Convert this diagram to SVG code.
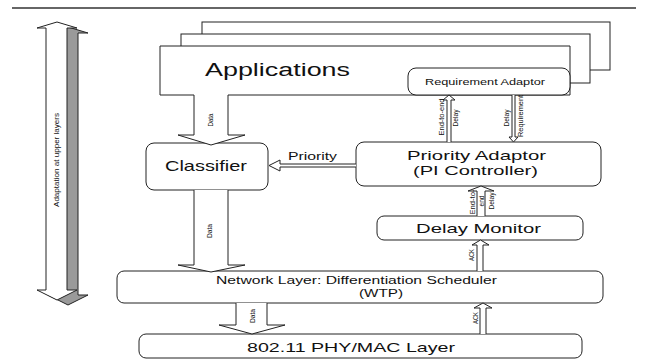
<svg xmlns="http://www.w3.org/2000/svg" width="648" height="363" viewBox="0 0 648 363">
<style>
.box{fill:#fff;stroke:#222;stroke-width:1}
.arr{fill:#fff;stroke:#222;stroke-width:1}
text{font-family:"Liberation Sans",Arial,sans-serif;fill:#111}
.c{text-anchor:middle}
.r{text-anchor:middle;dominant-baseline:central}
</style>
<rect width="648" height="363" fill="#fff"/>
<line x1="12" y1="8" x2="636" y2="8" stroke="#333" stroke-width="1.3"/>

<g id="adaptation-arrow">
  <path d="M68,27 L88,33 H78 V295 H88 L68,305 L48,295 H57 V33 H48 Z" fill="#9a9a9a" stroke="#222" stroke-width="1"/>
  <path d="M57,22 L77,28 H67 V290 H77 L57,300 L37,290 H46 V28 H37 Z" fill="#fff" stroke="#222" stroke-width="1"/>
  <text class="r" font-size="8" textLength="94" lengthAdjust="spacingAndGlyphs" transform="translate(56.5,160) rotate(-90)">Adaptation at upper layers</text>
</g>

<g id="applications">
  <rect class="box" x="202" y="22" width="408" height="48"/>
  <rect class="box" x="181" y="34" width="409" height="49"/>
  <rect x="160" y="46" width="410" height="49" fill="#fff"/>
  <path d="M194,95 H160 V46 H570 V95 H228" fill="none" stroke="#222" stroke-width="1"/>
  <text x="205" y="76" font-size="18" textLength="145" lengthAdjust="spacingAndGlyphs">Applications</text>
</g>

<g id="requirement-adaptor">
  <rect class="box" x="408" y="68" width="162" height="27" rx="8"/>
  <text x="425" y="85" font-size="9.5" textLength="120" lengthAdjust="spacingAndGlyphs">Requirement Adaptor</text>
</g>

<g id="classifier">
  <rect class="box" x="146" y="143" width="122" height="47" rx="8"/>
  <text x="165" y="171" font-size="14.5" textLength="82" lengthAdjust="spacingAndGlyphs">Classifier</text>
</g>

<g id="priority-adaptor">
  <rect class="box" x="356" y="142" width="245" height="44" rx="8"/>
  <text x="407" y="160" font-size="13.5" textLength="139" lengthAdjust="spacingAndGlyphs">Priority Adaptor</text>
  <text x="413" y="175" font-size="13.5" textLength="125" lengthAdjust="spacingAndGlyphs">(PI Controller)</text>
</g>

<g id="delay-monitor">
  <rect class="box" x="377" y="216" width="206" height="24" rx="7"/>
  <text x="416" y="233" font-size="13" textLength="125" lengthAdjust="spacingAndGlyphs">Delay Monitor</text>
</g>

<g id="network-layer">
  <rect class="box" x="117" y="271" width="486" height="32" rx="7"/>
  <text x="216" y="284" font-size="10" textLength="281" lengthAdjust="spacingAndGlyphs">Network Layer: Differentiation Scheduler</text>
  <text x="359" y="297" font-size="10" textLength="44" lengthAdjust="spacingAndGlyphs">(WTP)</text>
</g>

<g id="phy-mac">
  <rect class="box" x="139" y="334" width="443" height="24" rx="7"/>
  <text x="247" y="352" font-size="13.5" textLength="208" lengthAdjust="spacingAndGlyphs">802.11 PHY/MAC Layer</text>
</g>

<g id="connectors">
  <path class="arr" d="M194,95 V135 H178 L211,145 L245,135 H228 V95"/>
  <text class="r" font-size="7" textLength="13" lengthAdjust="spacingAndGlyphs" transform="translate(210,120) rotate(-90)">Data</text>

  <path class="arr" d="M194,190 V265 H178 L211,272 L245,265 H228 V190"/>
  <text class="r" font-size="7" textLength="14" lengthAdjust="spacingAndGlyphs" transform="translate(209,231) rotate(-90)">Data</text>

  <path class="arr" d="M236,303 V325 H219 L252,334 L285,325 H267 V303"/>
  <text class="r" font-size="7" textLength="14" lengthAdjust="spacingAndGlyphs" transform="translate(252,316) rotate(-90)">Data</text>

  <path class="arr" d="M356,164 H280 V160 L269,165.5 L280,171 V167 H356"/>
  <text x="288" y="160" font-size="10.5" textLength="49" lengthAdjust="spacingAndGlyphs">Priority</text>

  <path class="arr" d="M447,142 V100 H443 L449,95 L455,100 H451 V142"/>
  <text class="r" font-size="7" textLength="37" lengthAdjust="spacingAndGlyphs" transform="translate(441,117) rotate(-90)">End-to-end</text>
  <text class="r" font-size="7" textLength="17" lengthAdjust="spacingAndGlyphs" transform="translate(455,118) rotate(-90)">Delay</text>

  <path class="arr" d="M512,95 V137 H509 L513.5,142 L518,137 H515 V95"/>
  <text class="r" font-size="7" textLength="17" lengthAdjust="spacingAndGlyphs" transform="translate(506,118) rotate(-90)">Delay</text>
  <text class="r" font-size="7" textLength="42" lengthAdjust="spacingAndGlyphs" transform="translate(520,116) rotate(-90)">Requirement</text>

  <path class="arr" d="M477,216 V191 H468 L481,186 L494,191 H485 V216"/>
  <text class="r" font-size="7" textLength="25" lengthAdjust="spacingAndGlyphs" transform="translate(472,202) rotate(-90)">End-to-</text>
  <text class="r" font-size="7" textLength="11" lengthAdjust="spacingAndGlyphs" transform="translate(481,201) rotate(-90)">end</text>
  <text class="r" font-size="7" textLength="17" lengthAdjust="spacingAndGlyphs" transform="translate(491,201) rotate(-90)">Delay</text>

  <path class="arr" d="M477,271 V245 H472 L480.5,240 L489,245 H483 V271"/>
  <text class="r" font-size="7" textLength="12" lengthAdjust="spacingAndGlyphs" transform="translate(471,255) rotate(-90)">ACK</text>

  <path class="arr" d="M480,334 V308 H474 L483,303 L492,308 H486 V334"/>
  <text class="r" font-size="7" textLength="12" lengthAdjust="spacingAndGlyphs" transform="translate(475,318) rotate(-90)">ACK</text>
</g>
</svg>
